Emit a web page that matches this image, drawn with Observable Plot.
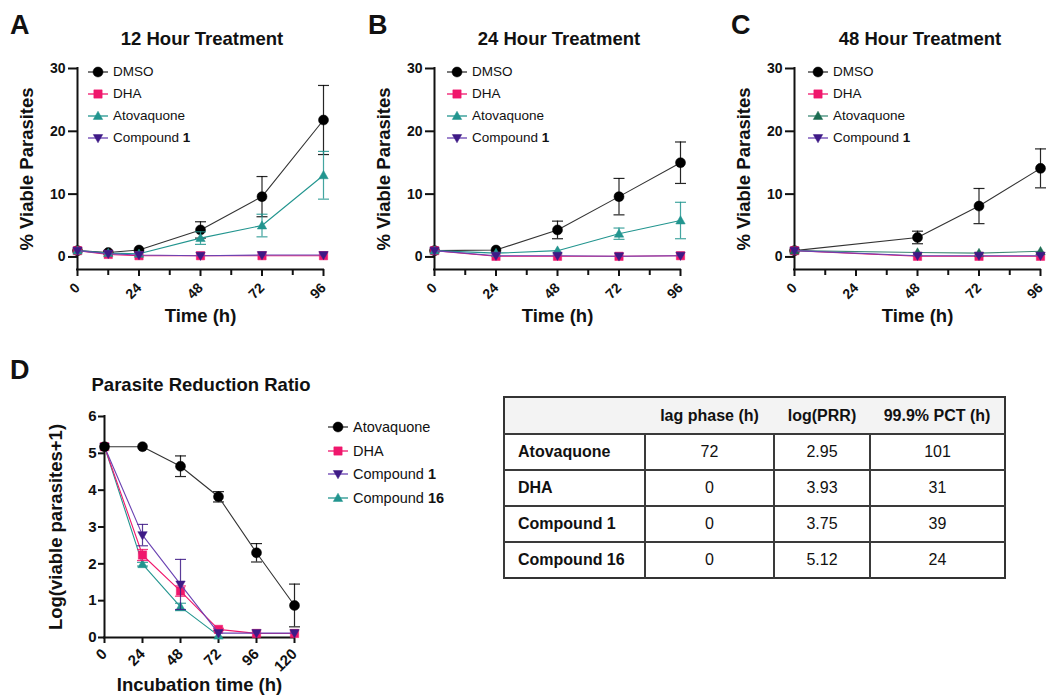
<!DOCTYPE html>
<html>
<head>
<meta charset="utf-8">
<script src="https://cdn.jsdelivr.net/npm/d3@7"></script>
<script src="https://cdn.jsdelivr.net/npm/@observablehq/plot@0.6"></script>
<style>
html, body { margin: 0; padding: 0; background: #fff; overflow: hidden; }
#root { position: relative; width: 1047px; height: 696px; overflow: hidden; background: #fff;
  font-family: "Liberation Sans", Arial, Helvetica, sans-serif; color: #111; }
.abs { position: absolute; }
.letter { font-size: 27px; font-weight: bold; line-height: 27px; }
.title { font-size: 18.5px; font-weight: bold; line-height: 18px; white-space: nowrap; transform: translateX(-50%); }
.lrow { position: absolute; display: flex; align-items: center; height: 16px; white-space: nowrap; }
.lrow svg { display: block; }
.lrow span { margin-left: 5px; line-height: 16px; }
.plotbox svg { max-width: none !important; }
table.prr { position: absolute; border-collapse: collapse; table-layout: fixed; font-size: 16px;
  border: 2px solid #333; }
table.prr th, table.prr td { padding: 0; text-align: center; border-top: 2px solid #3a3a3a; border-left: 2px solid #3a3a3a; height: 34px; }
table.prr thead th { border-left: none; border-top: none; background: #f3f3f3; font-weight: bold; height: 35px; }
table.prr td.name { text-align: left; padding-left: 13px; font-weight: bold; }
</style>
</head>
<body>
<div id="root"></div>
<script>
// ---------------- data ----------------
// Panel A: 12 hour treatment
const hoursA = [0, 12, 24, 48, 72, 96];
const dmsoA = [1.0, 0.7, 1.1, 4.3, 9.6, 21.8];
const dmsoA_sd = [0, 0, 0, 1.3, 3.2, 5.5];
const dhaA = [1.0, 0.4, 0.2, 0.2, 0.2, 0.2];
const atoA = [1.0, 0.6, 0.5, 3.0, 5.0, 13.0];
const atoA_sd = [0, 0, 0, 1.0, 1.8, 3.8];
const cmp1A = [1.0, 0.5, 0.3, 0.2, 0.3, 0.3];

// Panel B: 24 hour treatment
const hoursB = [0, 24, 48, 72, 96];
const dmsoB = [1.0, 1.1, 4.3, 9.6, 15.0];
const dmsoB_sd = [0, 0, 1.4, 2.9, 3.3];
const dhaB = [1.0, 0.1, 0.1, 0.1, 0.2];
const atoB = [1.0, 0.6, 1.0, 3.7, 5.8];
const atoB_sd = [0, 0, 0, 0.9, 2.9];
const cmp1B = [1.0, 0.2, 0.2, 0.1, 0.2];

// Panel C: 48 hour treatment
const hoursC = [0, 48, 72, 96];
const dmsoC = [1.0, 3.1, 8.1, 14.1];
const dmsoC_sd = [0, 1.0, 2.8, 3.1];
const dhaC = [1.0, 0.1, 0.1, 0.1];
const atoC = [1.0, 0.7, 0.6, 0.9];
const cmp1C = [1.0, 0.2, 0.2, 0.2];

// Panel D: parasite reduction ratio, log(viable parasites + 1)
const hoursD = [0, 24, 48, 72, 96, 120];
const atoD = [5.18, 5.18, 4.65, 3.82, 2.30, 0.87];
const atoD_sd = [0, 0, 0.28, 0.14, 0.25, 0.58];
const dhaD = [5.18, 2.24, 1.26, 0.22, 0.11, 0.11];
const dhaD_sd = [0, 0.15, 0.14, 0.03, 0, 0];
const cmp1D = [5.18, 2.78, 1.44, 0.12, 0.12, 0.12];
const cmp1D_sd = [0, 0.29, 0.68, 0, 0, 0];
const hoursD16 = [0, 24, 48, 72];
const cmp16D = [5.18, 1.99, 0.83, 0.05];
const cmp16D_sd = [0, 0.05, 0.1, 0];

// Table
const tableCompounds = ["Atovaquone", "DHA", "Compound 1", "Compound 16"];
const lagPhase = ["72", "0", "0", "0"];
const logPRR = ["2.95", "3.93", "3.75", "5.12"];
const pct999 = ["101", "31", "39", "24"];
const tableHeaders = ["", "lag phase (h)", "log(PRR)", "99.9% PCT (h)"];

// ---------------- styles ----------------
const BLACK = "#000000", PINK = "#f0176c", TEAL = "#22958f", GREEN = "#1c6d52", PURPLE = "#3e1a86";
const PURPLE_LINE = "#6a42b2";

const capSym = {draw(ctx, size) { const r = Math.sqrt(size / Math.PI); ctx.moveTo(-r, 0); ctx.lineTo(r, 0); }};
const triUp = {draw(ctx, size) { const r = Math.sqrt(size / Math.PI);
  ctx.moveTo(0, -r); ctx.lineTo(r * 0.98, r * 0.72); ctx.lineTo(-r * 0.98, r * 0.72); ctx.closePath(); }};
const triDown = {draw(ctx, size) { const r = Math.sqrt(size / Math.PI);
  ctx.moveTo(0, r); ctx.lineTo(r * 0.98, -r * 0.72); ctx.lineTo(-r * 0.98, -r * 0.72); ctx.closePath(); }};
const SYM = {circle: d3.symbolCircle, square: d3.symbolSquare, up: triUp, down: triDown};
const R = {circle: 5, square: 4.7, up: 4.8, down: 4.8};

const root = document.getElementById("root");
function div(cls, left, top, html) {
  const d = document.createElement("div");
  d.className = "abs " + cls;
  d.style.left = left + "px"; d.style.top = top + "px";
  d.innerHTML = html;
  root.appendChild(d);
  return d;
}

function series(label, x, y, sd, color, line, sym) {
  return {label, color, line, sym, rows: x.map((t, i) => ({t, v: y[i], sd: sd ? sd[i] : 0}))};
}

function panel(cfg) {
  const marks = [];
  const [y0, y1] = cfg.yDomain;
  const xMax = cfg.xDomain[1];
  // axis lines
  marks.push(Plot.ruleX([0], {y1: y0, y2: y1, stroke: "#111", strokeWidth: 2, strokeLinecap: "square"}));
  marks.push(Plot.ruleY([y0], {x1: 0, x2: xMax, stroke: "#111", strokeWidth: 2, strokeLinecap: "square"}));
  marks.push(Plot.axisY({ticks: cfg.yTicks, tickSize: cfg.yTickSize, tickPadding: cfg.yTickPad, strokeWidth: 2,
    tickFormat: d3.format("d"),
    fontSize: cfg.tickFont, fontWeight: "bold", label: null, fill: "#111", stroke: "#111"}));
  marks.push(Plot.axisX({ticks: cfg.xTicks, tickSize: cfg.xTickSize, tickPadding: cfg.xTickPad, strokeWidth: 2,
    tickFormat: d3.format("d"),
    tickRotate: -45, textAnchor: "end", lineAnchor: "middle", fontSize: cfg.tickFont, fontWeight: "bold",
    label: null, fill: "#111", stroke: "#111"}));
  if (cfg.minorTicks) {
    marks.push(Plot.axisX({ticks: cfg.minorTicks, tickSize: cfg.xTickSize - 1, strokeWidth: 2, tickFormat: () => "",
      label: null, stroke: "#111"}));
  }
  for (const s of cfg.series) {
    const err = s.rows.filter(d => d.sd > 0);
    marks.push(Plot.ruleX(err, {x: "t", y1: d => d.v - d.sd, y2: d => d.v + d.sd, stroke: s.color, strokeWidth: 1.2, strokeOpacity: 0.85}));
    marks.push(Plot.dot(err, {x: "t", y: d => d.v + d.sd, symbol: capSym, r: 5.5, stroke: s.color, strokeWidth: 1.2, strokeOpacity: 0.85}));
    marks.push(Plot.dot(err, {x: "t", y: d => d.v - d.sd, symbol: capSym, r: 5.5, stroke: s.color, strokeWidth: 1.2, strokeOpacity: 0.85}));
    marks.push(Plot.line(s.rows, {x: "t", y: "v", stroke: s.line, strokeWidth: 1.1}));
    marks.push(Plot.dot(s.rows, {x: "t", y: "v", symbol: SYM[s.sym], r: R[s.sym], fill: s.color, stroke: s.color, strokeWidth: 0.5}));
  }
  marks.push(Plot.text([cfg.yLabel], {text: d => d, frameAnchor: "left", rotate: -90, dx: cfg.yLabelDx,
    textAnchor: "middle", lineAnchor: "middle",
    fontSize: 18.5, fontWeight: "bold", fill: "#111"}));
  marks.push(Plot.text([cfg.xLabel], {text: d => d, frameAnchor: "bottom", dy: cfg.xLabelDy,
    textAnchor: "middle", lineAnchor: "middle",
    fontSize: 18.5, fontWeight: "bold", fill: "#111"}));

  const svg = Plot.plot({
    width: cfg.width, height: cfg.height,
    marginLeft: cfg.ml, marginRight: cfg.mr, marginTop: cfg.mt, marginBottom: cfg.mb,
    x: {domain: cfg.xDomain, axis: null},
    y: {domain: cfg.yDomain, axis: null},
    style: {fontFamily: '"Liberation Sans", Arial, Helvetica, sans-serif', background: "transparent", overflow: "visible", color: "#111"},
    marks
  });
  const box = div("plotbox", cfg.left, cfg.top, "");
  box.style.width = cfg.width + "px"; box.style.height = cfg.height + "px";
  box.appendChild(svg);
}

function legend(items, left, top, step, fontSize) {
  items.forEach((s, i) => {
    const row = document.createElement("div");
    row.className = "lrow";
    row.style.left = left + "px";
    row.style.top = (top + i * step - 8) + "px";
    row.style.fontSize = fontSize + "px";
    const svg = d3.create("svg").attr("width", 20).attr("height", 16);
    svg.append("line").attr("x1", 0).attr("x2", 20).attr("y1", 8).attr("y2", 8).attr("stroke", s.line).attr("stroke-width", 1.3);
    const r = R[s.sym];
    svg.append("path").attr("transform", "translate(10,8)")
      .attr("d", d3.symbol().type(SYM[s.sym]).size(Math.PI * r * r)())
      .attr("fill", s.color).attr("stroke", s.color).attr("stroke-width", 0.5);
    row.appendChild(svg.node());
    const sp = document.createElement("span");
    sp.innerHTML = s.label.replace(/^Compound (\d+)$/, "Compound <b>$1</b>");
    row.appendChild(sp);
    root.appendChild(row);
  });
}

// ---------------- panels A-C ----------------
const common = {
  width: 345, height: 340, ml: 77, mr: 22, mt: 68, mb: 71, top: 0,
  xDomain: [0, 96], yDomain: [-2, 30], yTicks: [0, 10, 20, 30], xTicks: [0, 24, 48, 72, 96],
  minorTicks: [12, 36, 60, 84], yTickSize: 9, yTickPad: 3, xTickSize: 7, xTickPad: 9, tickFont: 14,
  yLabel: "% Viable Parasites", xLabel: "Time (h)", yLabelDx: -50, xLabelDy: 47
};

const seriesA = [
  series("DMSO", hoursA, dmsoA, dmsoA_sd, BLACK, "#333", "circle"),
  series("DHA", hoursA, dhaA, null, PINK, PINK, "square"),
  series("Atovaquone", hoursA, atoA, atoA_sd, TEAL, TEAL, "up"),
  series("Compound 1", hoursA, cmp1A, null, PURPLE, PURPLE_LINE, "down")
];
const seriesB = [
  series("DMSO", hoursB, dmsoB, dmsoB_sd, BLACK, "#333", "circle"),
  series("DHA", hoursB, dhaB, null, PINK, PINK, "square"),
  series("Atovaquone", hoursB, atoB, atoB_sd, TEAL, TEAL, "up"),
  series("Compound 1", hoursB, cmp1B, null, PURPLE, PURPLE_LINE, "down")
];
const seriesC = [
  series("DMSO", hoursC, dmsoC, dmsoC_sd, BLACK, "#333", "circle"),
  series("DHA", hoursC, dhaC, null, PINK, PINK, "square"),
  series("Atovaquone", hoursC, atoC, null, GREEN, "#3f8a76", "up"),
  series("Compound 1", hoursC, cmp1C, null, PURPLE, PURPLE_LINE, "down")
];

panel({...common, left: 0, series: seriesA});
panel({...common, left: 357, series: seriesB});
panel({...common, left: 717, series: seriesC});

legend(seriesA, 88, 72, 22, 13.5);
legend(seriesB, 447, 72, 22, 13.5);
legend(seriesC, 808, 72, 22, 13.5);

// ---------------- panel D ----------------
const seriesD = [
  series("Atovaquone", hoursD, atoD, atoD_sd, BLACK, "#333", "circle"),
  series("DHA", hoursD, dhaD, dhaD_sd, PINK, PINK, "square"),
  series("Compound 1", hoursD, cmp1D, cmp1D_sd, PURPLE, PURPLE_LINE, "down"),
  series("Compound 16", hoursD16, cmp16D, cmp16D_sd, TEAL, TEAL, "up")
];
// drawing order: Compound 16 first, Atovaquone last
panel({
  left: 0, top: 350, width: 320, height: 346, ml: 104, mr: 26, mt: 66, mb: 59,
  xDomain: [0, 120], yDomain: [0, 6], yTicks: [0, 1, 2, 3, 4, 5, 6], xTicks: [0, 24, 48, 72, 96, 120],
  minorTicks: null, yTickSize: 6, yTickPad: 2, xTickSize: 6, xTickPad: 8, tickFont: 15,
  yLabel: "Log(viable parasites+1)", xLabel: "Incubation time (h)", yLabelDx: -48, xLabelDy: 48,
  series: [seriesD[3], seriesD[1], seriesD[2], seriesD[0]]
});
legend(seriesD, 328, 427, 23.7, 14.5);

// ---------------- letters and titles ----------------
div("letter", 10, 12, "A");
div("letter", 368, 12, "B");
div("letter", 731, 12, "C");
div("letter", 10, 357, "D");
div("title", 202, 30, "12 Hour Treatment");
div("title", 559, 30, "24 Hour Treatment");
div("title", 920, 30, "48 Hour Treatment");
div("title", 201, 376, "Parasite Reduction Ratio");

// ---------------- table ----------------
const colW = [141, 129, 96, 135];
const tbl = d3.select(root).append("table").attr("class", "prr")
  .style("left", "503px").style("top", "396px").style("width", d3.sum(colW) + "px");
tbl.append("colgroup").selectAll("col").data(colW).join("col").style("width", d => d + "px");
tbl.append("thead").append("tr").selectAll("th").data(tableHeaders).join("th").text(d => d);
const tb = tbl.append("tbody");
tableCompounds.forEach((c, i) => {
  const tr = tb.append("tr");
  tr.append("td").attr("class", "name").text(c);
  [lagPhase[i], logPRR[i], pct999[i]].forEach(v => tr.append("td").text(v));
});
</script>
</body>
</html>
